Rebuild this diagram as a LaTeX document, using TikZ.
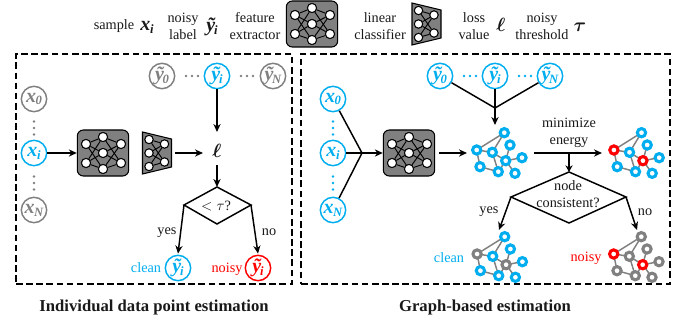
\documentclass[tikz,border=0pt]{standalone}
\usepackage{fontspec}
\setmainfont{Liberation Serif}
\usetikzlibrary{arrows.meta,calc}
\definecolor{cblue}{RGB}{0,174,239}
\definecolor{cgray}{RGB}{128,128,128}
\definecolor{cred}{RGB}{255,0,0}
\newcommand{\bxi}[1]{{\bfseries\itshape x\kern-0.3pt\raisebox{-2.2pt}{\fontsize{9.5}{10}\selectfont #1}}}
\newcommand{\tyy}[1]{{\bfseries\itshape ỹ\kern-1pt\raisebox{-2.2pt}{\fontsize{9.5}{10}\selectfont #1}}}
\tikzset{
  x=0.75pt,y=-0.75pt,
  every node/.style={font=\fontsize{10.7}{12.6}\selectfont,inner sep=0pt,align=center,text=black!90},
  legendsym/.style={font=\fontsize{15}{16}\selectfont},
  mathsym/.style={font=\fontsize{15}{16}\selectfont\boldmath},
  flow/.style={line width=1.1pt,-{Stealth[length=6pt,width=5.4pt]}},
  plainline/.style={line width=1.1pt},
  panel/.style={draw=black,line width=1.1pt,dash pattern=on 5pt off 2.6pt},
  decision/.style={draw=black,line width=1.1pt,fill=white},
  labelcirc/.style={circle,draw=#1,line width=1.1pt,minimum size=19pt,fill=white,text=#1,font=\fontsize{15}{16}\selectfont},
  dotmark/.style={circle,fill=#1,minimum size=2.1pt},
  netbox/.style={draw=black,fill=cgray,line width=0.8pt,rounded corners=4.5pt,minimum width=38.5pt,minimum height=34.5pt},
  netunit/.style={circle,draw=black,fill=white,line width=0.7pt,minimum size=6.8pt},
  gnode/.style={circle,draw=#1,fill=white,line width=2.3pt,minimum size=6.2pt},
  gedge/.style={draw=cgray,line width=1.1pt},
  title/.style={font=\fontsize{12.5}{14}\selectfont\bfseries}
}
% three dots: name, x, y, colour, dx, dy
\newcommand{\threedots}[6]{%
  \node[dotmark=#4] (#1a) at ($(#2,#3)-(#5,#6)$) {};
  \node[dotmark=#4] (#1b) at (#2,#3) {};
  \node[dotmark=#4] (#1c) at ($(#2,#3)+(#5,#6)$) {};
}
% feature extractor icon
\newcommand{\featnet}[3]{%
  \node[netbox] (#1) at (#2,#3) {};
  \foreach \nm/\dx/\dy in {a/-17/-9,b/-17/10,c/0/-16,d/0/0,e/0/16,f/18/-9,g/18/10}{
    \node[netunit] (#1\nm) at ($(#2,#3)+(\dx,\dy)$) {};}
  \foreach \p in {a,b,f,g}{\foreach \q in {c,d,e}{\draw[line width=0.7pt] (#1\p)--(#1\q);}}
  \foreach \nm in {a,b,c,d,e,f,g}{\node[netunit] at (#1\nm) {};}
}
% linear classifier icon
\newcommand{\linclf}[3]{%
  \coordinate (#1) at (#2,#3);
  \draw[fill=cgray,line width=0.8pt,line join=miter] ($(#1)+(-14.5,-21)$) -- ($(#1)+(14.5,-14)$) -- ($(#1)+(14.5,14)$) -- ($(#1)+(-14.5,21)$) -- cycle;
  \foreach \nm/\dx/\dy in {a/-8/-13.5,b/-8/0,c/-8/13.5,d/7.5/-9,e/7.5/9}{
    \node[netunit,minimum size=6.2pt] (#1\nm) at ($(#1)+(\dx,\dy)$) {};}
  \foreach \p in {a,b,c}{\foreach \q in {d,e}{\draw[line width=0.7pt] (#1\p)--(#1\q);}}
  \foreach \nm in {a,b,c,d,e}{\node[netunit,minimum size=6.2pt] at (#1\nm) {};}
}
% graph icon: prefix, x, y of top node, colours: default, left, centre
\newcommand{\graphnet}[6]{%
  \coordinate (#1o) at (#2,#3);
  \foreach \nm/\dx/\dy in {a/0/0,b/5.7/12.3,c/-27.6/17.3,d/-12/19.6,e/1.4/28,f/17.7/25,g/-24.3/34,h/-6/39,i/10.7/40.6}{
    \coordinate (#1\nm) at ($(#1o)+(\dx,\dy)$);}
  \foreach \p/\q in {c/a,c/d,d/a,d/e,b/e,e/f,e/i,e/h,d/h,c/g,g/h}{\draw[gedge] (#1\p)--(#1\q);}
  \foreach \nm in {a,b,d,f,g,h,i}{\node[gnode=#4] at (#1\nm) {};}
  \node[gnode=#5] at (#1c) {};
  \node[gnode=#6] at (#1e) {};
}
\begin{document}
\begin{tikzpicture}
\useasboundingbox (0,0) rectangle (686,321);
% legend
\node (lsample) at (114,26) {sample};
\node[legendsym] (lx) at (147,27) {\bxi{i}};
\node (lnoisy) at (183,26) {noisy\\label};
\node[legendsym] (ly) at (212,27) {\tyy{i}};
\node (lfeat) at (255,26) {feature\\extractor};
\featnet{lnet}{312}{24}
\node (llin) at (380,26) {linear\\classifier};
\linclf{lclf}{426.5}{24}
\node (lloss) at (474,26) {loss\\value};
\node[mathsym] (lell) at (501,25) {$\ell$};
\node (lthr) at (542,26) {noisy\\threshold};
\node[mathsym] (ltau) at (580,27) {$\tau$};
% panels
\node[panel,minimum width=207pt,minimum height=172.5pt] (pleft) at (154,169) {};
\node[panel,minimum width=276.75pt,minimum height=172.5pt] (pright) at (485.5,169) {};
\node[title] (tleft) at (154,307) {Individual data point estimation};
\node[title] (tright) at (485,307) {Graph-based estimation};
% left panel
\node[labelcirc=cgray] (ay0) at (162,76) {\tyy{0}};
\threedots{ad1}{192}{76}{cgray}{6}{0}
\node[labelcirc=cblue] (ayi) at (217,76) {\tyy{i}};
\threedots{ad2}{247}{76}{cgray}{6}{0}
\node[labelcirc=cgray] (ayN) at (273,76) {\tyy{N}};
\node[labelcirc=cgray] (ax0) at (34,99) {\bxi{0}};
\threedots{ad3}{34}{128}{cgray}{0}{6.5}
\node[labelcirc=cblue] (axi) at (34,153) {\bxi{i}};
\threedots{ad4}{34}{183}{cgray}{0}{6.5}
\node[labelcirc=cgray] (axN) at (34,210) {\bxi{N}};
\featnet{anet}{103}{153}
\linclf{aclf}{157}{153}
\node[mathsym] (aell) at (217,151) {$\ell$};
\coordinate (aellt) at (217,132);
\coordinate (aellb) at (217,165);
\coordinate (aelll) at (203,153);
\coordinate (aclfo) at (175,153);
\path (217,187) coordinate (adt) (184,205) coordinate (adl) (251,205) coordinate (adr) (217,224) coordinate (adb);
\draw[decision,line join=miter] (adt)--(adr)--(adb)--(adl)--cycle;
\node (adtext) at (216,206) {$<\tau$?};
\node[labelcirc=cblue] (acl) at (178,268) {\tyy{i}};
\node[labelcirc=cred] (ano) at (258,268) {\tyy{i}};
\node[text=cblue] (acltext) at (146,268) {clean};
\node[text=cred] (anotext) at (227,269) {noisy};
\draw[flow] (axi) -- (anet);
\draw[flow] (aclfo) -- (aelll);
\draw[flow] (ayi) -- (aellt);
\draw[flow] (aellb) -- (adt);
\draw[flow] (adl) -- ($(acl.north)+(0,-1)$);
\draw[flow] (adr) -- ($(ano.north)+(0,-1)$);
\node (ayes) at (167,233) {yes};
\node (ano2) at (269,232) {no};
% right panel
\node[labelcirc=cblue] (by0) at (440,76) {\tyy{0}};
\threedots{bd1}{470}{76}{cblue}{6}{0}
\node[labelcirc=cblue] (byi) at (495,76) {\tyy{i}};
\threedots{bd2}{525}{76}{cblue}{6}{0}
\node[labelcirc=cblue] (byN) at (550,76) {\tyy{N}};
\node[labelcirc=cblue] (bx0) at (333,99) {\bxi{0}};
\threedots{bd3}{333}{128}{cblue}{0}{6.5}
\node[labelcirc=cblue] (bxi) at (333,153) {\bxi{i}};
\threedots{bd4}{333}{183}{cblue}{0}{6.5}
\node[labelcirc=cblue] (bxN) at (333,210) {\bxi{N}};
\featnet{bnet}{409}{153}
\graphnet{g1}{504.3}{132.7}{cblue}{cblue}{cblue}
\graphnet{g2}{641.5}{132.7}{cblue}{cred}{cred}
\graphnet{g3}{504.7}{236.7}{cblue}{cgray}{cgray}
\graphnet{g4}{641.3}{236.7}{cgray}{cred}{cred}
\coordinate (bjy) at (495,108);
\coordinate (bjx) at (362,153);
\coordinate (bg1in) at (467,153);
\coordinate (bg1top) at (495,125);
\coordinate (bg1out) at (534,153);
\coordinate (bg2in) at (602,153);
\coordinate (bmid) at (569,153);
\path (569,172) coordinate (bdt) (511,197) coordinate (bdl) (626,197) coordinate (bdr) (569,223) coordinate (bdb);
\draw[decision,line join=miter] (bdt)--(bdr)--(bdb)--(bdl)--cycle;
\node (bdtext) at (568,194.5) {node\\consistent?};
\draw[plainline] (by0) -- (bjy);
\draw[plainline] (byN) -- (bjy);
\draw[flow] (byi) -- (bg1top);
\draw[plainline] (bx0) -- (bjx);
\draw[plainline] (bxN) -- (bjx);
\draw[flow] (bxi) -- (bnet);
\draw[flow] ($(bnet.east)+(4,0)$) -- (bg1in);
\draw[flow] (bg1out) -- (bg2in);
\draw[flow,-{Stealth[length=5pt,width=5.4pt]}] (bmid) -- (bdt);
\coordinate (bcl) at (499,230);
\coordinate (bno) at (637,230);
\draw[flow] (bdl) -- (bcl);
\draw[flow] (bdr) -- (bno);
\node (bmin) at (569,133) {minimize\\energy};
\node (byes) at (489,212) {yes};
\node (bno2) at (645,212) {no};
\node[text=cblue] (bcltext) at (449,258) {clean};
\node[text=cred] (bnotext) at (586,258) {noisy};
\end{tikzpicture}
\end{document}
